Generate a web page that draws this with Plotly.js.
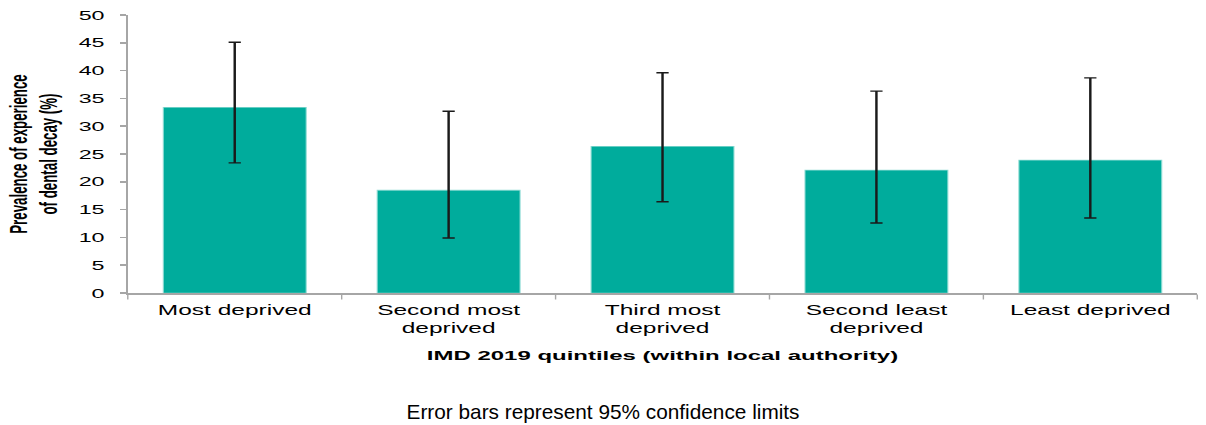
<!DOCTYPE html>
<html><head><meta charset="utf-8">
<script src="https://cdn.plot.ly/plotly-3.0.1.min.js"></script>
<style>
html,body{margin:0;padding:0;background:#fff;overflow:hidden}
#chart{width:689px;height:425px;transform:scaleX(1.7504);transform-origin:0 0}
#chart .annotation{transform-box:fill-box;transform-origin:center;transform:scaleX(0.5713)}
</style>
</head><body><div id="chart"></div>
<script>
var categories = ["Most deprived", "Second most<br>deprived", "Third most<br>deprived", "Second least<br>deprived", "Least deprived"];
var prevalence = [33.4, 18.5, 26.4, 22.1, 23.9];
var upperCI = [45.1, 32.7, 39.6, 36.3, 38.7];
var lowerCI = [23.4, 9.9, 16.4, 12.6, 13.5];
var yTicks = [0, 5, 10, 15, 20, 25, 30, 35, 40, 45, 50];

var plus = prevalence.map(function(v, i){ return upperCI[i] - v; });
var minus = prevalence.map(function(v, i){ return v - lowerCI[i]; });

var FONT = 'Liberation Sans, Arial, sans-serif';
var trace = {
  type: 'bar', x: categories, y: prevalence,
  marker: {color: '#00AC9C', line: {color: '#8fdcd4', width: 0.6}},
  error_y: {type: 'data', symmetric: false, array: plus, arrayminus: minus,
            color: '#1a1a1a', thickness: 1.4, width: 3.5},
  hoverinfo: 'none'
};
var layout = {
  width: 689, height: 425,
  margin: {l: 72.6, r: 4.6, t: 15, b: 132},
  paper_bgcolor: '#fff', plot_bgcolor: '#fff',
  bargap: 0.332,
  showlegend: false,
  font: {family: FONT, color: '#000'},
  xaxis: {
    showline: true, linecolor: '#a6a6a6', linewidth: 1.5,
    ticks: 'outside', tickson: 'boundaries', ticklen: 5, tickcolor: '#a6a6a6', tickwidth: 0.8,
    ticklabelstandoff: 4,
    tickfont: {size: 14, color: '#000', family: FONT},
    title: {text: '<b>IMD 2019 quintiles (within local authority)</b>', font: {size: 13.7, family: FONT}, standoff: 15}
  },
  yaxis: {
    range: [0, 50], tickvals: yTicks, showgrid: false, zeroline: false,
    showline: true, linecolor: '#a6a6a6', linewidth: 1.1,
    ticks: 'outside', ticklen: 3.5, tickcolor: '#a6a6a6', tickwidth: 1.5,
    ticklabelstandoff: 6,
    tickfont: {size: 13.3, color: '#000', family: FONT},
    title: {text: '<b>Prevalence of experience<br>of dental decay (%)</b>', font: {size: 13.3, family: FONT}, standoff: 8}
  },
  annotations: [{
    text: 'Error bars represent 95% confidence limits', xref: 'paper', yref: 'paper',
    x: 0.445, y: -0.4245, xanchor: 'center', yanchor: 'middle', showarrow: false,
    font: {size: 20.8, color: '#000', family: FONT}
  }]
};
Plotly.newPlot('chart', [trace], layout, {displayModeBar: false, staticPlot: true});
</script></body></html>
